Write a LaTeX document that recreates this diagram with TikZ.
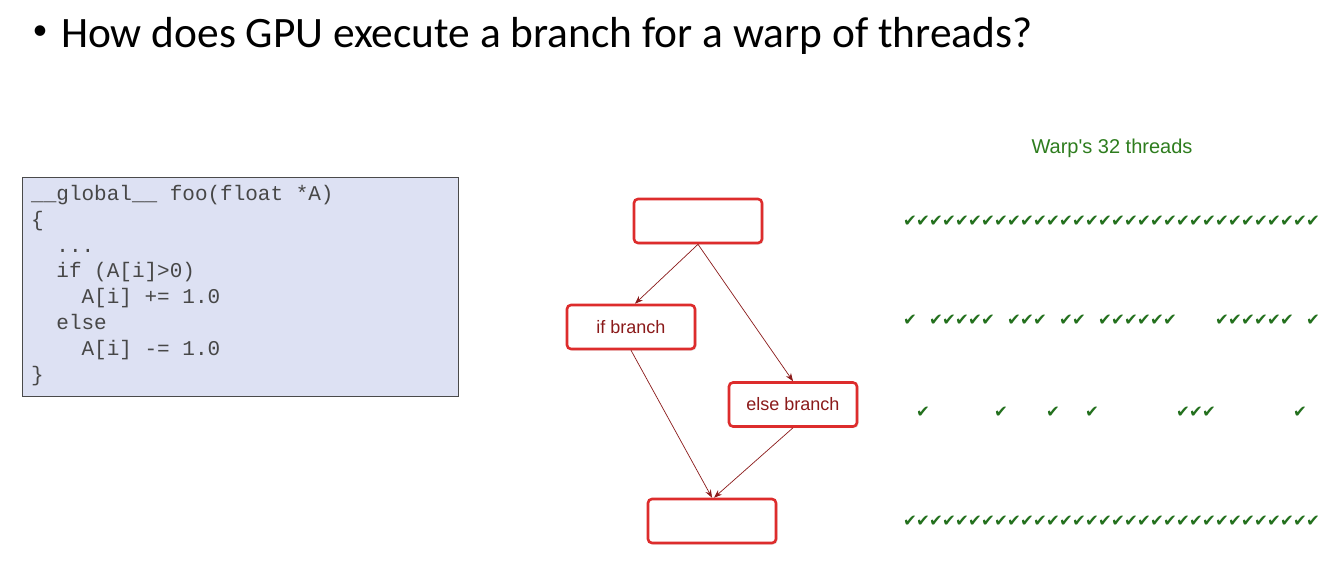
\documentclass[tikz,border=0pt]{standalone}
\usepackage{fontspec}
\setmainfont{Carlito}
\setmonofont{Liberation Mono}
\newfontfamily\arialf{Liberation Sans}
\newfontfamily\djv{DejaVu Sans}
\usetikzlibrary{arrows.meta,shadows}
\definecolor{boxred}{HTML}{DD2C2C}
\definecolor{darkred}{HTML}{8B1A1A}
\definecolor{codefill}{HTML}{DDE1F3}
\definecolor{codeedge}{HTML}{4A4A4A}
\definecolor{chkgreen}{HTML}{23701D}
\definecolor{warpgreen}{HTML}{2E7D1E}
\tikzset{
  flowbox/.style={draw=boxred, line width=2.6pt, rounded corners=4pt, fill=white,
    minimum width=128pt, minimum height=44pt, inner sep=0pt,
    drop shadow={opacity=0.2, shadow xshift=1.5pt, shadow yshift=-1.5pt},
    font=\arialf\fontsize{18}{20}\selectfont, text=darkred},
  flowarrow/.style={draw=darkred, line width=0.7pt, -{Stealth[length=8pt,width=6pt]}},
  codeline/.style={anchor=base west, inner sep=0pt, text=black!72,
    font=\ttfamily\fontsize{21}{24}\selectfont},
  chk/.style={inner sep=0pt, text=chkgreen, font=\djv\fontsize{16.5}{17}\selectfont},
}
\begin{document}
\begin{tikzpicture}[x=1pt,y=-1pt]
\useasboundingbox (0,0) rectangle (1336,568);
\fill[white] (0,0) rectangle (1336,568);

% title
\node[inner sep=0pt, font=\fontsize{30}{32}\selectfont] (bullet) at (40,33) {•};
\node[anchor=base west, inner sep=0pt, font=\fontsize{43.4}{48}\selectfont] (title) at (61,47) {How does GPU execute a branch for a warp of threads?};

% code box
\node[draw=codeedge, line width=1pt, fill=codefill, minimum width=436pt, minimum height=219pt, anchor=north west, inner sep=0pt] (code) at (22,177) {};
\node[codeline] (c1) at (31,200) {\_\_global\_\_ foo(float *A)};
\node[codeline] (c2) at (31,226) {\{};
\node[codeline] (c3) at (31,252) {\ \ ...};
\node[codeline] (c4) at (31,277) {\ \ if (A[i]>0)};
\node[codeline] (c5) at (31,303) {\ \ \ \ A[i] += 1.0};
\node[codeline] (c6) at (31,329) {\ \ else};
\node[codeline] (c7) at (31,355) {\ \ \ \ A[i] -= 1.0};
\node[codeline] (c8) at (31,381) {\}};

% flow chart
\node[flowbox] (top) at (698,221) {};
\node[flowbox] (ifb) at (631,327) {if branch};
\node[flowbox] (elseb) at (793,404.5) {else branch};
\node[flowbox] (bot) at (712,521) {};
\draw[flowarrow] (top.south) -- ([xshift=4pt]ifb.north);
\draw[flowarrow] (top.south) -- (elseb.north);
\draw[flowarrow] (ifb.south) -- (bot.north);
\draw[flowarrow] (elseb.south) -- ([xshift=2pt]bot.north);

% warp label
\node[font=\arialf\fontsize{20}{22}\selectfont, text=warpgreen] (warp) at (1112,148) {Warp's 32 threads};

% check marks
\foreach \i in {0,...,31} {
  \node[chk] (ra\i) at (910+13*\i,221) {✔};
  \node[chk] (rd\i) at (910+13*\i,521) {✔};
}
\foreach \i in {0,2,3,4,5,6,8,9,10,12,13,15,16,17,18,19,20,24,25,26,27,28,29,31} {
  \node[chk] (rb\i) at (910+13*\i,320) {✔};
}
\foreach \i in {1,7,11,14,21,22,23,30} {
  \node[chk] (rc\i) at (910+13*\i,412) {✔};
}
\end{tikzpicture}
\end{document}
